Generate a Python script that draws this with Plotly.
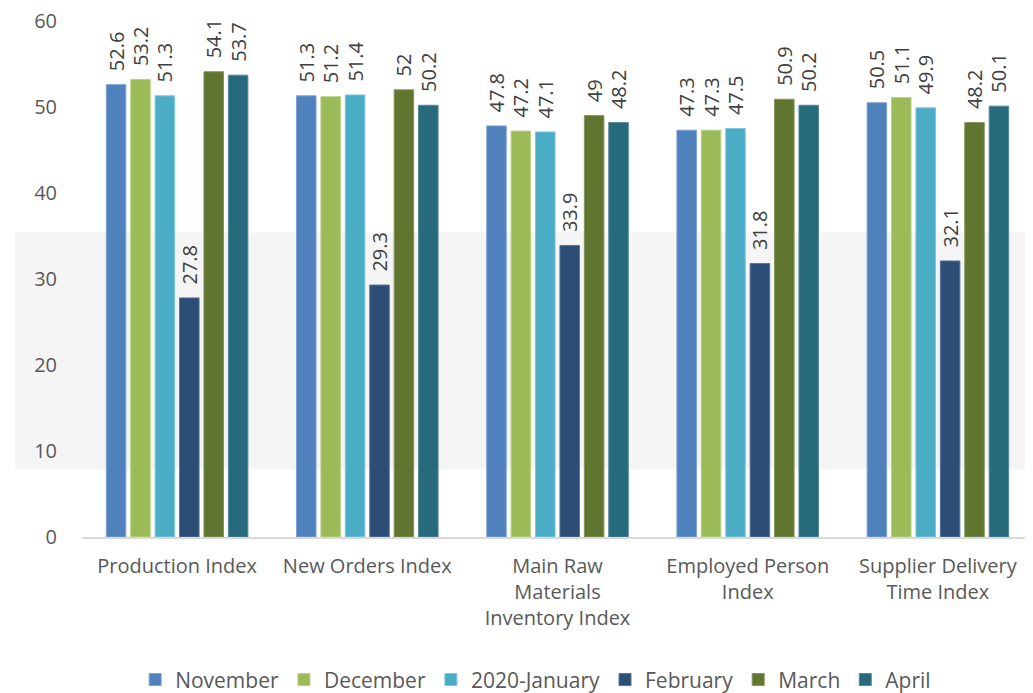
import plotly.graph_objects as go

categories = ["Production Index", "New Orders Index", "Main Raw<br>Materials<br>Inventory Index",
              "Employed Person<br>Index", "Supplier Delivery<br>Time Index"]
series_names = ["November", "December", "2020-January", "February", "March", "April"]
november = [52.6, 51.3, 47.8, 47.3, 50.5]
december = [53.2, 51.2, 47.2, 47.3, 51.1]
january = [51.3, 51.4, 47.1, 47.5, 49.9]
february = [27.8, 29.3, 33.9, 31.8, 32.1]
march = [54.1, 52.0, 49.0, 50.9, 48.2]
april = [53.7, 50.2, 48.2, 50.2, 50.1]
y_ticks = [0, 10, 20, 30, 40, 50, 60]

series_values = [november, december, january, february, march, april]
colors = ["#4F81BD", "#9BBB59", "#4BACC6", "#2C4D75", "#5F7530", "#276A7C"]
edge_colors = ["#7FA3D3", "#B8D083", "#7CC6D9", "#5A7599", "#82965A", "#55899A"]

FONT = "Open Sans"
NB = "\u00a0" * 2

fig = go.Figure()
for name, vals, c, ec in zip(series_names, series_values, colors, edge_colors):
    fig.add_trace(go.Bar(
        name=name, x=categories, y=vals,
        marker=dict(color=c, line=dict(color=ec, width=1)),
        text=[NB + f"{v:g}" for v in vals],
        textposition="outside", textangle=-90, constraintext="none",
        cliponaxis=False,
        textfont=dict(family=FONT, size=20, color="#404040"),
        hoverinfo="skip",
    ))

fig.add_shape(type="rect", xref="paper", yref="y", x0=-0.0705, x1=1.0, y0=7.9, y1=35.4,
              fillcolor="#F5F5F5", line=dict(width=0), layer="below")

fig.update_layout(
    width=1025, height=685,
    margin=dict(l=74, r=0, t=13, b=156, autoexpand=False),
    paper_bgcolor="white", plot_bgcolor="rgba(0,0,0,0)",
    barmode="group", bargap=0.23, bargroupgap=0.2,
    font=dict(family=FONT, size=20, color="#595959"),
    showlegend=True,
    legend=dict(orientation="h", xref="paper", x=0.477, xanchor="center",
                yref="container", y=0.049, yanchor="top",
                font=dict(family=FONT, size=21, color="#595959"),
                traceorder="normal", itemclick=False),
    xaxis=dict(showgrid=False, showline=True, linecolor="#D9D9D9", linewidth=2,
               automargin=False,
               ticks="", ticklabelstandoff=10, tickfont=dict(family=FONT, size=20, color="#595959")),
    yaxis=dict(range=[0, 60], tickvals=y_ticks, showgrid=False, zeroline=False,
               automargin=False, ticklabeloverflow="allow",
               showline=False, ticks="", ticklabelstandoff=24,
               tickfont=dict(family=FONT, size=20, color="#595959")),
)

fig.write_html("out.html")
